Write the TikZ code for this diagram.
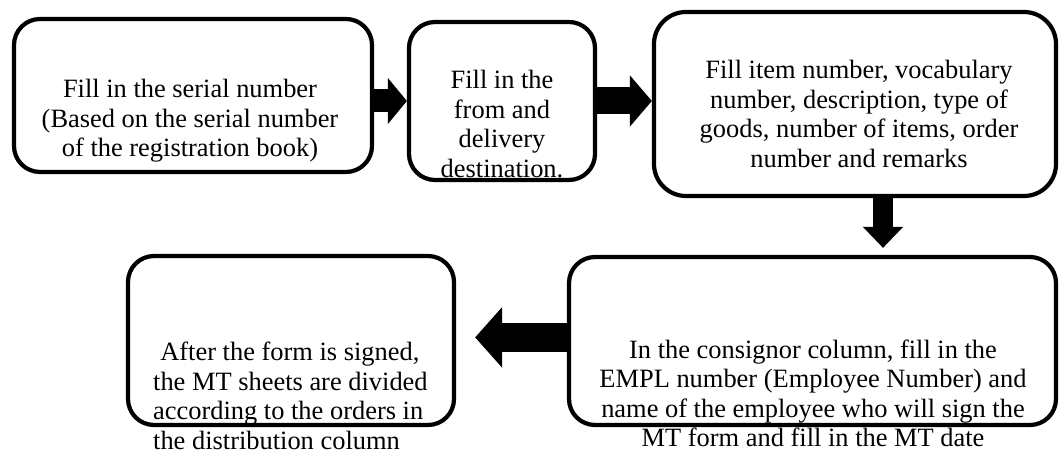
\documentclass[tikz,border=0pt]{standalone}
\usepackage{fontspec}
\setmainfont{Liberation Serif}
\usetikzlibrary{arrows.meta}

\tikzset{
    box/.style={draw, line width=3pt, rounded corners=0.65cm, inner sep=0pt},
    txt/.style={inner sep=0pt, font=\fontsize{18.8}{21}\selectfont},
    blockarrow/.style n args={3}{line width=#1, -{Triangle[width=#2, length=#3]}}
}

\begin{document}
\begin{tikzpicture}
        \useasboundingbox (0,0) rectangle (26.5,11.35);

        % boxes
        \node[box, minimum width=8.95cm, minimum height=3.825cm] (serial) at (4.825,8.9625) {};
        \node[box, minimum width=4.65cm, minimum height=3.95cm] (dest) at (12.55,8.825) {};
        \node[box, minimum width=10.05cm, minimum height=4.6cm, rounded corners=0.8cm] (items) at (21.375,8.75) {};
        \node[box, minimum width=12.175cm, minimum height=4.2cm] (consignor) at (20.3125,2.825) {};
        \node[box, minimum width=8.15cm, minimum height=4.225cm] (signed) at (7.275,2.8375) {};

        % texts
        \node[txt, align=center] (serialtxt) at (4.75,8.33) {Fill in the serial number\\(Based on the serial number\\of the registration book)};
        \node[txt, align=center] (desttxt) at (12.55,8.25) {Fill in the\\from and\\delivery\\destination.};
        \node[txt, align=center] (itemstxt) at (21.475,8.5) {Fill item number, vocabulary\\number, description, type of\\goods, number of items, order\\number and remarks};
        \node[txt, align=center] (consignortxt) at (20.325,1.5125) {In the consignor column, fill in the\\EMPL number (Employee Number) and\\name of the employee who will sign the\\MT form and fill in the MT date};
        \node[txt, align=left] (signedtxt) at (7.26,1.45) {\hspace*{0.18cm}After the form is signed,\\the MT sheets are divided\\according to the orders in\\the distribution column};

        % arrows
        \draw[blockarrow={0.575cm}{1.125cm}{0.475cm}] (serial.east |- dest.west) -- (dest.west);
        \draw[blockarrow={0.675cm}{1.25cm}{0.55cm}] (dest.east) -- (dest.east -| items.west);
        \draw[blockarrow={0.5cm}{0.975cm}{0.525cm}, shorten >=0.175cm] ([xshift=0.7cm]items.south) -- ([xshift=0.7cm]items.south |- consignor.north);
        \draw[blockarrow={0.725cm}{1.475cm}{0.675cm}, shorten >=0.475cm] ([yshift=0.09cm]consignor.west) -- ([yshift=0.09cm]consignor.west -| signed.east);
\end{tikzpicture}
\end{document}
